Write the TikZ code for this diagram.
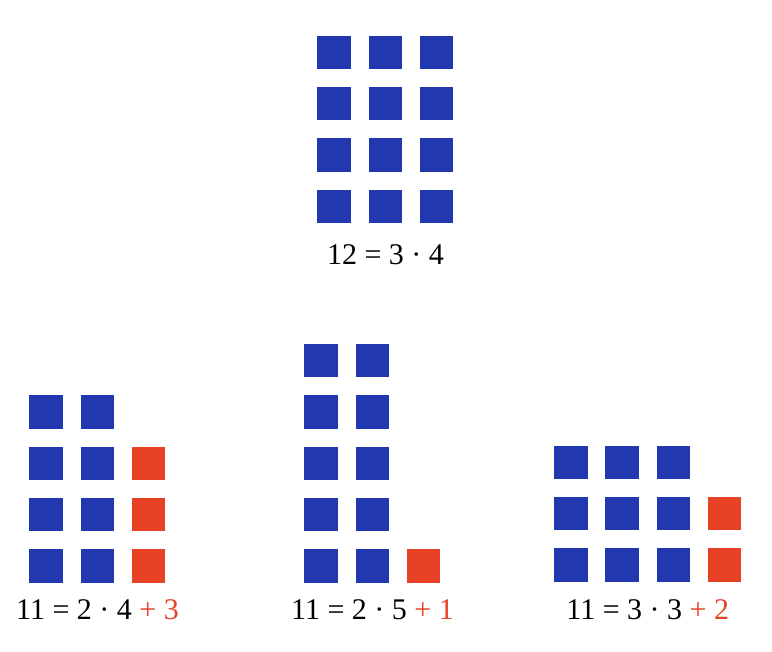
\documentclass[tikz,border=0pt]{standalone}
\usepackage{fontspec}
\setmainfont{Liberation Serif}
\usepackage{xcolor}
\usepackage{tikz}
\definecolor{tileblue}{RGB}{34,56,175}
\definecolor{tilered}{RGB}{231,66,38}
\tikzstyle{tile}=[
    rectangle,
    fill=tileblue,
    minimum size=33.5pt,
    inner sep=0pt]
\tikzstyle{extra}=[
    tile,
    fill=tilered]
\tikzstyle{equation}=[
    anchor=base,
    inner sep=0pt,
    text=black,
    font=\fontsize{30}{36}\selectfont]

\begin{document}
\begin{tikzpicture}[x=1pt,y=-1pt]
    \useasboundingbox (0,0) rectangle (772,652);

    % 12 = 3 * 4
    \begin{scope}[shift={(334.05,52.45)}]
      \foreach \c in {1,2,3}
        \foreach \r in {1,...,4}
          \node[tile] (top-\c-\r) at ({(\c-1)*51.3},{(\r-1)*51.3}) {};
    \end{scope}
    \node[equation] (top-eq) at (385.5,265) {12 = 3 · 4};

    % 11 = 2 * 4 + 3
    \begin{scope}[shift={(46.05,412.05)}]
      \foreach \c in {1,2}
        \foreach \r in {1,...,4}
          \node[tile] (left-\c-\r) at ({(\c-1)*51.3},{(\r-1)*51.3}) {};
      \foreach \r in {2,3,4}
        \node[extra] (left-3-\r) at (102.6,{(\r-1)*51.3}) {};
    \end{scope}
    \node[equation] (left-eq) at (97.5,619) {11 = 2 · 4 \textcolor{tilered}{+ 3}};

    % 11 = 2 * 5 + 1
    \begin{scope}[shift={(321.05,360.75)}]
      \foreach \c in {1,2}
        \foreach \r in {1,...,5}
          \node[tile] (mid-\c-\r) at ({(\c-1)*51.3},{(\r-1)*51.3}) {};
      \node[extra] (mid-3-5) at (102.6,205.2) {};
    \end{scope}
    \node[equation] (mid-eq) at (372.5,619) {11 = 2 · 5 \textcolor{tilered}{+ 1}};

    % 11 = 3 * 3 + 2
    \begin{scope}[shift={(570.75,462.45)}]
      \foreach \c in {1,2,3}
        \foreach \r in {1,2,3}
          \node[tile] (right-\c-\r) at ({(\c-1)*51.3},{(\r-1)*51.3}) {};
      \foreach \r in {2,3}
        \node[extra] (right-4-\r) at (153.9,{(\r-1)*51.3}) {};
    \end{scope}
    \node[equation] (right-eq) at (647.8,619) {11 = 3 · 3 \textcolor{tilered}{+ 2}};
  \end{tikzpicture}
\end{document}
